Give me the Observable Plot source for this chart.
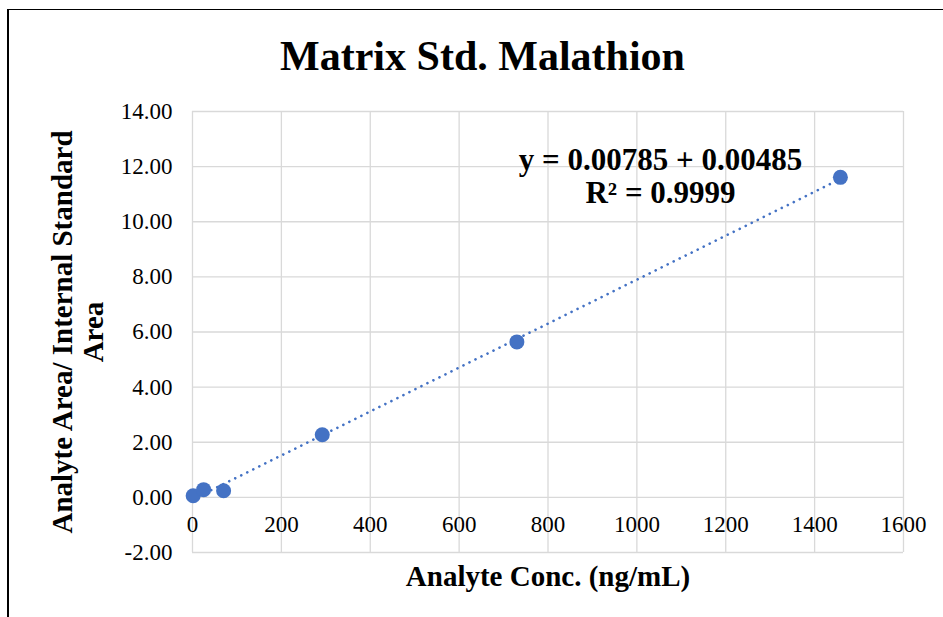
<!DOCTYPE html>
<html><head><meta charset="utf-8">
<script src="https://cdn.jsdelivr.net/npm/d3@7"></script>
<script src="https://cdn.jsdelivr.net/npm/@observablehq/plot@0.6"></script>
<style>
html,body{margin:0;padding:0;background:#fff;}
#chart{position:relative;width:943px;height:617px;overflow:hidden;}
#border{position:absolute;left:7px;top:9px;right:-5px;bottom:-5px;border-left:2px solid #000;border-top:1px solid #000;pointer-events:none;}
</style></head><body><div id="chart"><div id="border"></div></div>
<script>
const concentrations = [1.5, 25, 70, 292, 730, 1458];
const ratios = [0.06, 0.28, 0.24, 2.27, 5.64, 11.61];
const xTicks = [0, 200, 400, 600, 800, 1000, 1200, 1400, 1600];
const yTicks = [-2, 0, 2, 4, 6, 8, 10, 12, 14];
const title = "Matrix Std. Malathion";
const xLabel = "Analyte Conc. (ng/mL)";
const yLabelLines = ["Analyte Area/ Internal Standard", "Area"];
const equationLines = ["y = 0.00785 + 0.00485", "R² = 0.9999"];

const data = concentrations.map((c, i) => ({x: c, y: ratios[i]}));
const blue = "#4472C4";
const grid = "#d9d9d9";
const font = "Liberation Serif, Times New Roman, serif";

const chart = Plot.plot({
  width: 943,
  height: 617,
  marginLeft: 192,
  marginRight: 40,
  marginTop: 111,
  marginBottom: 65,
  style: {fontFamily: font, fontSize: "23px", color: "#000", background: "transparent"},
  x: {domain: [0, 1600], axis: null},
  y: {domain: [-2, 14], axis: null},
  marks: [
    Plot.gridX(xTicks, {stroke: grid, strokeOpacity: 1, strokeWidth: 1.3}),
    Plot.gridY(yTicks, {stroke: grid, strokeOpacity: 1, strokeWidth: 1.3}),
    Plot.axisY(yTicks, {tickSize: 0, tickPadding: 20, tickFormat: d => d.toFixed(2), label: null, fontSize: 23}),
    Plot.text(xTicks, {x: d => d, y: 0, dy: 27, text: d => String(d), fontSize: 23}),
    Plot.linearRegressionY(data, {x: "x", y: "y", ci: 0, stroke: blue, strokeWidth: 2.6, strokeDasharray: "0.1,6.6", strokeLinecap: "round"}),
    Plot.dot(data, {x: "x", y: "y", r: 7.5, fill: blue}),
    Plot.text([title], {frameAnchor: "top-left", dx: 290, dy: -55, lineAnchor: "middle", text: d => d, fontSize: 42, fontWeight: "bold", textAnchor: "middle"}),
    Plot.text([xLabel], {frameAnchor: "bottom", dy: 24, lineAnchor: "middle", text: d => d, fontSize: 29, fontWeight: "bold"}),
    Plot.text([yLabelLines[0]], {frameAnchor: "left", dx: -130, rotate: -90, textAnchor: "middle", lineAnchor: "middle", text: d => d, fontSize: 29, fontWeight: "bold"}),
    Plot.text([yLabelLines[1]], {frameAnchor: "left", dx: -99, rotate: -90, textAnchor: "middle", lineAnchor: "middle", text: d => d, fontSize: 29, fontWeight: "bold"}),
    Plot.text([equationLines[0]], {frameAnchor: "top-left", dx: 468, dy: 49, lineAnchor: "middle", text: d => d, fontSize: 31, fontWeight: "bold", textAnchor: "middle"}),
    Plot.text([equationLines[1]], {frameAnchor: "top-left", dx: 468, dy: 82, lineAnchor: "middle", text: d => d, fontSize: 31, fontWeight: "bold", textAnchor: "middle"})
  ]
});
chart.style.position = "absolute";
chart.style.left = "0px";
chart.style.top = "0px";
document.getElementById("chart").prepend(chart);
</script>
</body></html>
